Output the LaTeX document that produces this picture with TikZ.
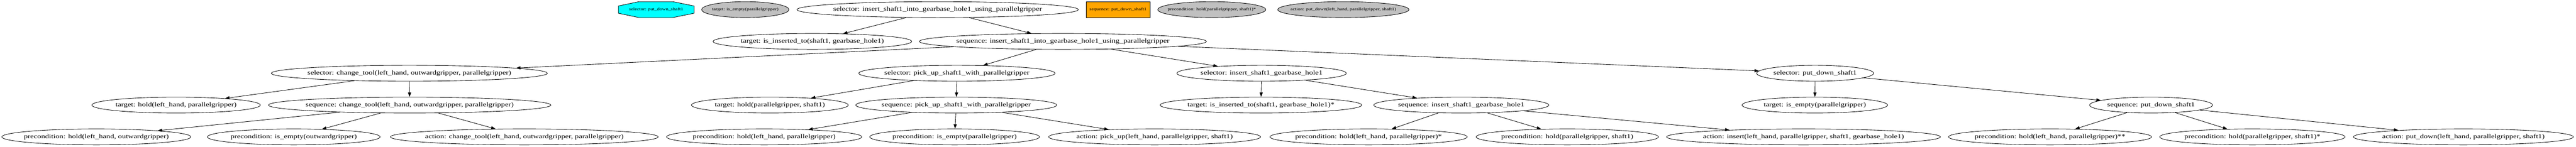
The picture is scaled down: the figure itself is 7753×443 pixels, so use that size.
\documentclass[tikz,border=0pt]{standalone}
\usepackage{fontspec}
\setmainfont{Liberation Serif}[FakeStretch=1.26]
\usetikzlibrary{shapes.geometric,arrows.meta}
\newcommand\zb[1]{\makebox[0pt]{#1}}
\definecolor{gvgray}{HTML}{C0C0C0}
\definecolor{gvorange}{HTML}{FFA500}
\definecolor{gvcyan}{HTML}{00FFFF}
\tikzset{
  gnode/.style={draw, ellipse, inner sep=0pt, minimum height=36pt, line width=1pt,
    font=\fontsize{14}{16}\selectfont},
  legnode/.style={draw, ellipse, inner sep=0pt, minimum height=36pt, line width=1pt,
    fill=gvgray, font=\fontsize{9.1}{11}\selectfont},
  legbox/.style={draw, rectangle, inner sep=0pt, minimum height=36pt, line width=1pt,
    fill=gvorange, font=\fontsize{9.1}{11}\selectfont},
  legtext/.style={inner sep=0pt, font=\fontsize{9.1}{11}\selectfont},
  gedge/.style={-{Triangle[length=10pt,width=7pt]}, line width=1pt}
}
\begin{document}
\begin{tikzpicture}[x=0.75pt,y=-0.75pt]
\useasboundingbox (0,0) rectangle (7753,443);
\fill[white] (0,0) rectangle (7753,443);
% legend row
\draw[line width=1pt, fill=gvcyan] (1923,5) -- (2025,5) -- (2089,18) -- (2089,40) -- (2025,53) -- (1923,53) -- (1861,40) -- (1861,18) -- cycle;
\node[legtext] (lsel) at (1975,29) {selector: put\_down\_shaft1};
\node[legnode, minimum width=197.25pt] (ltar) at (2243,29) {\zb{target: is\_empty(parallelgripper)}};
\node[legbox, minimum width=144pt] (lseq) at (3365,29) {sequence: put\_down\_shaft1};
\node[legnode, minimum width=243.75pt] (lpre) at (3647,29) {\zb{precondition: hold(parallelgripper, shaft1)*}};
\node[legnode, minimum width=296.25pt] (lact) at (4043,29) {\zb{action: put\_down(left\_hand, parallelgripper, shaft1)}};
% root
\node[gnode, minimum width=635.25pt] (root) at (2822,29) {\zb{selector: insert\_shaft1\_into\_gearbase\_hole1\_using\_parallelgripper}};
% row 1
\node[gnode, minimum width=448.5pt] (t1) at (2445,125) {\zb{target: is\_inserted\_to(shaft1, gearbase\_hole1)}};
\node[gnode, minimum width=648pt] (s1) at (3199,125) {\zb{sequence: insert\_shaft1\_into\_gearbase\_hole1\_using\_parallelgripper}};
% row 2
\node[gnode, minimum width=623.25pt] (selct) at (1232,221) {\zb{selector: change\_tool(left\_hand, outwardgripper, parallelgripper)}};
\node[gnode, minimum width=443.25pt] (selpk) at (2880,221) {\zb{selector: pick\_up\_shaft1\_with\_parallelgripper}};
\node[gnode, minimum width=382.5pt] (selin) at (3797,221) {\zb{selector: insert\_shaft1\_gearbase\_hole1}};
\node[gnode, minimum width=264pt] (selpd) at (5463,221) {\zb{selector: put\_down\_shaft1}};
% row 3
\node[gnode, minimum width=380.25pt] (tct) at (530,317) {\zb{target: hold(left\_hand, parallelgripper)}};
\node[gnode, minimum width=637.5pt] (sct) at (1233,317) {\zb{sequence: change\_tool(left\_hand, outwardgripper, parallelgripper)}};
\node[gnode, minimum width=354pt] (tpk) at (2317,317) {\zb{target: hold(parallelgripper, shaft1)}};
\node[gnode, minimum width=453.75pt] (spk) at (2878,317) {\zb{sequence: pick\_up\_shaft1\_with\_parallelgripper}};
\node[gnode, minimum width=455.25pt] (tin) at (3795,317) {\zb{target: is\_inserted\_to(shaft1, gearbase\_hole1)*}};
\node[gnode, minimum width=395.25pt] (sin) at (4398,317) {\zb{sequence: insert\_shaft1\_gearbase\_hole1}};
\node[gnode, minimum width=328.5pt] (tpd) at (5462,317) {\zb{target: is\_empty(parallelgripper)}};
\node[gnode, minimum width=277.5pt] (spd) at (6474,317) {\zb{sequence: put\_down\_shaft1}};
% row 4
\node[gnode, minimum width=426.75pt] (p1) at (290,413) {\zb{precondition: hold(left\_hand, outwardgripper)}};
\node[gnode, minimum width=390pt] (p2) at (884,413) {\zb{precondition: is\_empty(outwardgripper)}};
\node[gnode, minimum width=604.5pt] (a1) at (1578,413) {\zb{action: change\_tool(left\_hand, outwardgripper, parallelgripper)}};
\node[gnode, minimum width=441pt] (p3) at (2300,413) {\zb{precondition: hold(left\_hand, parallelgripper)}};
\node[gnode, minimum width=383.25pt] (p4) at (2873,413) {\zb{precondition: is\_empty(parallelgripper)}};
\node[gnode, minimum width=478.5pt] (a2) at (3475,413) {\zb{action: pick\_up(left\_hand, parallelgripper, shaft1)}};
\node[gnode, minimum width=445.5pt] (p5) at (4119,413) {\zb{precondition: hold(left\_hand, parallelgripper)*}};
\node[gnode, minimum width=411.75pt] (p6) at (4717,413) {\zb{precondition: hold(parallelgripper, shaft1)}};
\node[gnode, minimum width=618pt] (a3) at (5428,413) {\zb{action: insert(left\_hand, parallelgripper, shaft1, gearbase\_hole1)}};
\node[gnode, minimum width=458.25pt] (p7) at (6170,413) {\zb{precondition: hold(left\_hand, parallelgripper)**}};
\node[gnode, minimum width=418.5pt] (p8) at (6779,413) {\zb{precondition: hold(parallelgripper, shaft1)*}};
\node[gnode, minimum width=496.5pt] (a4) at (7414,413) {\zb{action: put\_down(left\_hand, parallelgripper, shaft1)}};
% edges
\draw[gedge] (root) -- (t1);
\draw[gedge] (root) -- (s1);
\draw[gedge] (s1) -- (selct);
\draw[gedge] (s1) -- (selpk);
\draw[gedge] (s1) -- (selin);
\draw[gedge] (s1) -- (selpd);
\draw[gedge] (selct) -- (tct);
\draw[gedge] (selct) -- (sct);
\draw[gedge] (selpk) -- (tpk);
\draw[gedge] (selpk) -- (spk);
\draw[gedge] (selin) -- (tin);
\draw[gedge] (selin) -- (sin);
\draw[gedge] (selpd) -- (tpd);
\draw[gedge] (selpd) -- (spd);
\draw[gedge] (sct) -- (p1);
\draw[gedge] (sct) -- (p2);
\draw[gedge] (sct) -- (a1);
\draw[gedge] (spk) -- (p3);
\draw[gedge] (spk) -- (p4);
\draw[gedge] (spk) -- (a2);
\draw[gedge] (sin) -- (p5);
\draw[gedge] (sin) -- (p6);
\draw[gedge] (sin) -- (a3);
\draw[gedge] (spd) -- (p7);
\draw[gedge] (spd) -- (p8);
\draw[gedge] (spd) -- (a4);
\end{tikzpicture}
\end{document}
